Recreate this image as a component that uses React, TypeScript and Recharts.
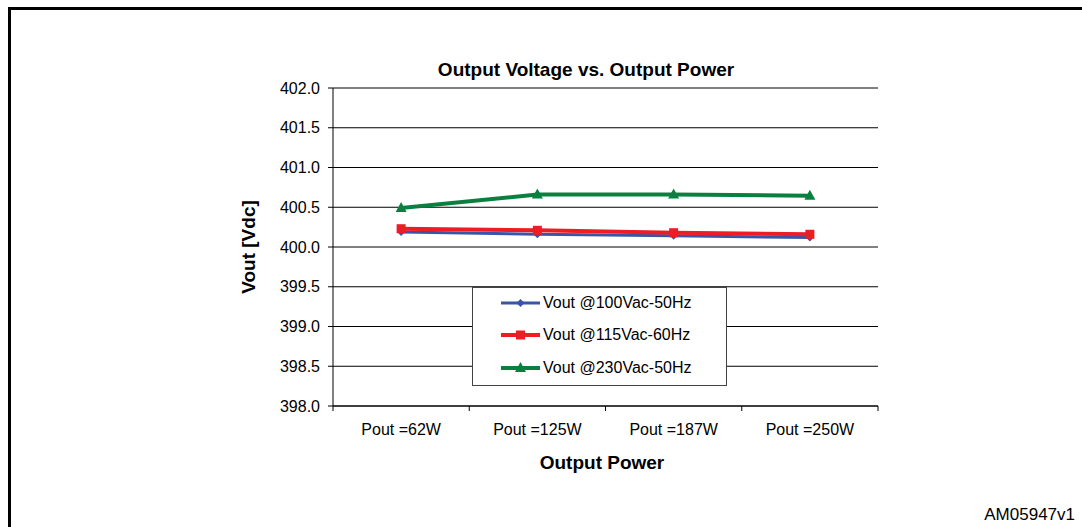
import * as React from 'react';
import {
  LineChart, Line, XAxis, YAxis, CartesianGrid,
} from 'recharts';

const categories = ['Pout =62W', 'Pout =125W', 'Pout =187W', 'Pout =250W'];
const vout100 = [400.19, 400.16, 400.14, 400.12];
const vout115 = [400.23, 400.21, 400.18, 400.16];
const vout230 = [400.49, 400.66, 400.66, 400.645];
const yTicks = [398.0, 398.5, 399.0, 399.5, 400.0, 400.5, 401.0, 401.5, 402.0];

const seriesDefs = [
  { key: 'v100', name: 'Vout @100Vac-50Hz', color: '#3a55a8', width: 3, marker: 'diamond' },
  { key: 'v115', name: 'Vout @115Vac-60Hz', color: '#ee1c25', width: 4, marker: 'square' },
  { key: 'v230', name: 'Vout @230Vac-50Hz', color: '#0a8040', width: 4, marker: 'triangle' },
];

const FONT = 'Arial, "Liberation Sans", Helvetica, sans-serif';

function Marker({ cx, cy, kind, color }: { cx: number; cy: number; kind: string; color: string }) {
  if (cx == null || cy == null) return null;
  if (kind === 'square') {
    return <rect x={cx - 4.5} y={cy - 4.5} width={9} height={9} fill={color} />;
  }
  if (kind === 'triangle') {
    return <polygon points={`${cx},${cy - 6} ${cx + 5.5},${cy + 4} ${cx - 5.5},${cy + 4}`} fill={color} />;
  }
  return <polygon points={`${cx},${cy - 4} ${cx + 4},${cy} ${cx},${cy + 4} ${cx - 4},${cy}`} fill={color} />;
}

function LegendBox() {
  return (
    <div style={{
      position: 'absolute', left: 472, top: 287, width: 253, height: 97,
      border: '1px solid #444', background: '#fff',
    }}>
      {seriesDefs.map((s, i) => (
        <div key={s.key} style={{
          position: 'absolute', left: 0, top: 15 + i * 32.3 - 10, height: 20,
          display: 'flex', alignItems: 'center',
        }}>
          <svg width={70} height={20} style={{ display: 'block' }}>
            <line x1={28} y1={10} x2={67} y2={10} stroke={s.color} strokeWidth={s.width} />
            <Marker cx={47.5} cy={10} kind={s.marker} color={s.color} />
          </svg>
          <span style={{ fontFamily: FONT, fontSize: 16, color: '#000', whiteSpace: 'nowrap' }}>{s.name}</span>
        </div>
      ))}
    </div>
  );
}

// category label plus Excel-style tick marks on the band boundaries
function CatTick(props: any) {
  const { x, y, payload, index, visibleTicksCount } = props;
  const half = payload && payload.offset ? payload.offset : 0;
  const last = index === visibleTicksCount - 1;
  return (
    <g>
      <line x1={x - half} y1={y} x2={x - half} y2={y + 5} stroke="#000" />
      {last && <line x1={x + half} y1={y} x2={x + half} y2={y + 5} stroke="#000" />}
      <text x={x} y={y + 29} textAnchor="middle" fontSize={16} fill="#000" fontFamily={FONT}>
        {payload.value}
      </text>
    </g>
  );
}

export default function App() {
  const data = categories.map((c, i) => ({
    name: c,
    v100: vout100[i],
    v115: vout115[i],
    v230: vout230[i],
  }));

  return (
    <div style={{ position: 'absolute', left: 0, top: 0, width: 1082, height: 527, overflow: 'hidden', background: '#fff' }}>
      <div style={{
        position: 'absolute', left: 8, top: 7, width: 1200, height: 700,
        border: '3px solid #000', boxSizing: 'border-box',
      }} />
      <div style={{
        position: 'absolute', left: 386, width: 400, top: 58, textAlign: 'center',
        fontFamily: FONT, fontWeight: 'bold', fontSize: 19, lineHeight: '24px', color: '#000',
      }}>Output Voltage vs. Output Power</div>
      <div style={{
        position: 'absolute', left: 402, width: 400, top: 451, textAlign: 'center',
        fontFamily: FONT, fontWeight: 'bold', fontSize: 19, lineHeight: '24px', color: '#000',
      }}>Output Power</div>
      <div style={{
        position: 'absolute', right: 7, top: 504, textAlign: 'right',
        fontFamily: '"Liberation Sans Narrow", "Arial Narrow", Arial, sans-serif', fontSize: 17, lineHeight: '22px', color: '#000',
      }}>AM05947v1</div>

      <div style={{ position: 'absolute', left: 0, top: 0 }}>
        <LineChart width={1082} height={527} data={data} margin={{ top: 88, right: 204, bottom: 91, left: 0 }}>
          <CartesianGrid vertical={false} stroke="#000" strokeWidth={1} />
          <XAxis
            dataKey="name"
            scale="band"
            axisLine={{ stroke: '#000' }}
            tickLine={false}
            tickSize={0}
            tickMargin={0}
            tick={(p: any) => <CatTick key={p.index} {...p} />}
            interval={0}
            height={30}
          />
          <YAxis
            domain={[398, 402]}
            ticks={yTicks}
            width={333}
            axisLine={{ stroke: '#000' }}
            tickLine={{ stroke: '#000' }}
            tickSize={5}
            tickMargin={8}
            tickFormatter={(v: number) => v.toFixed(1)}
            tick={{ fontSize: 16, fill: '#000', fontFamily: FONT }}
            label={{
              value: 'Vout [Vdc]', angle: -90, position: 'insideLeft', offset: 248,
              style: { textAnchor: 'middle', fontWeight: 'bold', fontSize: 19, fill: '#000', fontFamily: FONT },
            }}
          />
          <YAxis
            yAxisId="right"
            orientation="right"
            domain={[0, 1]}
            tick={false}
            tickLine={false}
            axisLine={{ stroke: '#000' }}
            width={0}
          />
          {seriesDefs.map(s => (
            <Line
              key={s.key}
              dataKey={s.key}
              name={s.name}
              stroke={s.color}
              strokeWidth={s.width}
              type="linear"
              isAnimationActive={false}
              dot={(p: any) => <Marker key={`${s.key}-${p.index}`} cx={p.cx} cy={p.cy} kind={s.marker} color={s.color} />}
              activeDot={false}
            />
          ))}
        </LineChart>
      </div>
      <LegendBox />
    </div>
  );
}
